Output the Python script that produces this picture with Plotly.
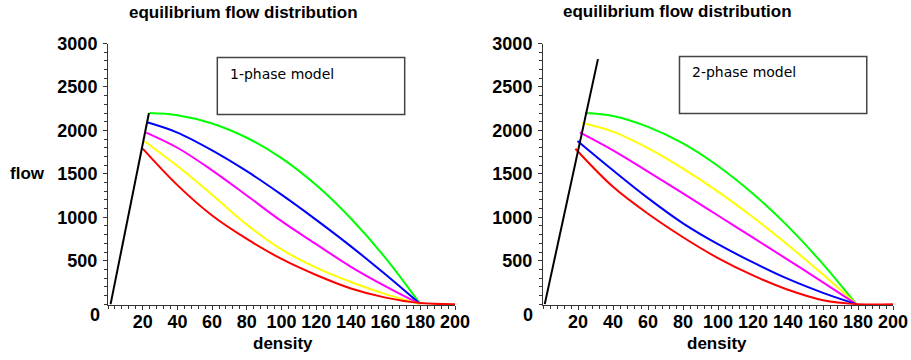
import plotly.graph_objects as go

# ---- data ----
# left panel: 1-phase model
L_black_k = [1.5, 23.6]
L_black_q = [0, 2200]
L_green_k = [24, 40, 60, 80, 100, 120, 140, 160, 180]
L_green_q = [2200, 2175, 2080, 1915, 1680, 1370, 985, 530, 0]
L_blue_k = [23, 40, 60, 80, 100, 120, 140, 160, 180]
L_blue_q = [2090, 1975, 1770, 1530, 1260, 970, 665, 340, 0]
L_mag_k = [22, 40, 60, 80, 100, 120, 140, 160, 180]
L_mag_q = [1975, 1800, 1540, 1250, 955, 690, 430, 205, 0]
L_yel_k = [21, 40, 60, 80, 100, 120, 140, 160, 180]
L_yel_q = [1875, 1590, 1260, 915, 630, 420, 255, 115, 0]
L_red_k = [20, 40, 60, 80, 100, 120, 140, 160, 180, 200]
L_red_q = [1790, 1370, 1020, 750, 520, 335, 180, 75, 12, 0]

# right panel: 2-phase model
R_black_k = [1, 31.4]
R_black_q = [0, 2820]
R_green_k = [24, 40, 60, 80, 100, 120, 140, 160, 179]
R_green_q = [2200, 2165, 2040, 1850, 1590, 1270, 895, 460, 0]
R_yel_k = [22.5, 40, 60, 80, 100, 120, 140, 160, 179]
R_yel_q = [2085, 1985, 1795, 1560, 1295, 1000, 680, 340, 0]
R_mag_k = [21, 40, 60, 80, 100, 120, 140, 160, 179]
R_mag_q = [1977, 1770, 1525, 1275, 1020, 765, 510, 250, 0]
R_blue_k = [19.7, 40, 60, 80, 100, 120, 140, 160, 179]
R_blue_q = [1878, 1540, 1220, 930, 690, 480, 290, 130, 0]
R_red_k = [18.5, 40, 60, 80, 100, 120, 140, 160, 180, 200]
R_red_q = [1788, 1350, 1040, 770, 530, 330, 165, 45, 0, 0]

x_ticks = [20, 40, 60, 80, 100, 120, 140, 160, 180, 200]
y_ticks = [500, 1000, 1500, 2000, 2500, 3000]
title_text = "equilibrium flow distribution"
x_title = "density"
y_title = "flow"
left_label = "1-phase model"
right_label = "2-phase model"

GREEN, BLUE, MAG, YEL, RED = "#00ff00", "#0000ff", "#ff00ff", "#ffff00", "#ff0000"

fig = go.Figure()

def add(k, q, color, xa, ya, shape="spline"):
    fig.add_trace(go.Scatter(x=k, y=q, mode="lines", xaxis=xa, yaxis=ya,
                             line=dict(color=color, width=2, shape=shape, smoothing=1.0),
                             showlegend=False, hoverinfo="skip"))

add(L_green_k, L_green_q, GREEN, "x", "y")
add(L_blue_k, L_blue_q, BLUE, "x", "y")
add(L_mag_k, L_mag_q, MAG, "x", "y")
add(L_yel_k, L_yel_q, YEL, "x", "y")
add(L_red_k, L_red_q, RED, "x", "y")
add(L_black_k, L_black_q, "black", "x", "y", "linear")

add(R_green_k, R_green_q, GREEN, "x2", "y2")
add(R_yel_k, R_yel_q, YEL, "x2", "y2")
add(R_mag_k, R_mag_q, MAG, "x2", "y2")
add(R_blue_k, R_blue_q, BLUE, "x2", "y2")
add(R_red_k, R_red_q, RED, "x2", "y2")
add(R_black_k, R_black_q, "black", "x2", "y2", "linear")

W, H = 911, 360
tickfont = dict(family="Liberation Sans, Arial", size=18, color="black", weight="bold")
ax_common = dict(showline=True, linecolor="#333", linewidth=1, showgrid=False, zeroline=False,
                 automargin=False,
                 ticks="outside", ticklen=4, tickwidth=1, tickcolor="#333", tickfont=tickfont)

def xax(domain, anchor):
    d = dict(ax_common)
    d.update(domain=domain, range=[0, 200], tickmode="array", tickvals=x_ticks, anchor=anchor,
             ticklabelstandoff=-4,
             minor=dict(ticks="outside", ticklen=3, tickcolor="#333", tickmode="linear", tick0=0, dtick=4))
    return d

def yax(domain, anchor):
    d = dict(ax_common)
    d.update(domain=domain, range=[-10, 3000], tickmode="array", tickvals=y_ticks, anchor=anchor,
             ticklabelstandoff=2,
             minor=dict(ticks="outside", ticklen=3, tickcolor="#333", tickmode="linear", tick0=0, dtick=100))
    return d

ydom = [1 - 305 / H, 1 - 43.5 / H]
fig.update_layout(
    template="none",
    width=W, height=H, margin=dict(l=0, r=0, t=0, b=0, autoexpand=False),
    paper_bgcolor="white", plot_bgcolor="white", showlegend=False,
    xaxis=xax([108 / W, 455 / W], "y"),
    yaxis=yax(ydom, "x"),
    xaxis2=xax([543 / W, 893 / W], "y2"),
    yaxis2=yax(ydom, "x2"),
)

bold = dict(family="Liberation Sans, Arial", size=17, color="black", weight="bold")
ann = [
    dict(text=title_text, x=243 / W, y=1 - 13 / H, font=bold),
    dict(text=title_text, x=677 / W, y=1 - 12 / H, font=bold),
    dict(text=x_title, x=283 / W, y=1 - 343 / H, font=bold),
    dict(text=x_title, x=717 / W, y=1 - 343 / H, font=bold),
    dict(text=y_title, x=27 / W, y=1 - 173 / H, font=bold),
    dict(text="0", x=95 / W, y=1 - 315 / H, font=tickfont),
    dict(text="0", x=528 / W, y=1 - 315 / H, font=tickfont),
]
for a in ann:
    a.update(xref="paper", yref="paper", showarrow=False, xanchor="center", yanchor="middle")
    fig.add_annotation(**a)

lab_font = dict(family="DejaVu Sans", size=14, color="black")
fig.add_annotation(text=left_label, x=69, y=2644, xref="x", yref="y", showarrow=False,
                   xanchor="left", yanchor="middle", font=lab_font)
fig.add_annotation(text=right_label, x=84, y=2667, xref="x2", yref="y2", showarrow=False,
                   xanchor="left", yanchor="middle", font=lab_font)

fig.add_shape(type="rect", xref="x", yref="y", x0=63, x1=171, y0=2184, y1=2839,
              line=dict(color="#444", width=1.5))
fig.add_shape(type="rect", xref="x2", yref="y2", x0=78, x1=185, y0=2195, y1=2850,
              line=dict(color="#444", width=1.5))

fig.write_html("out.html")
